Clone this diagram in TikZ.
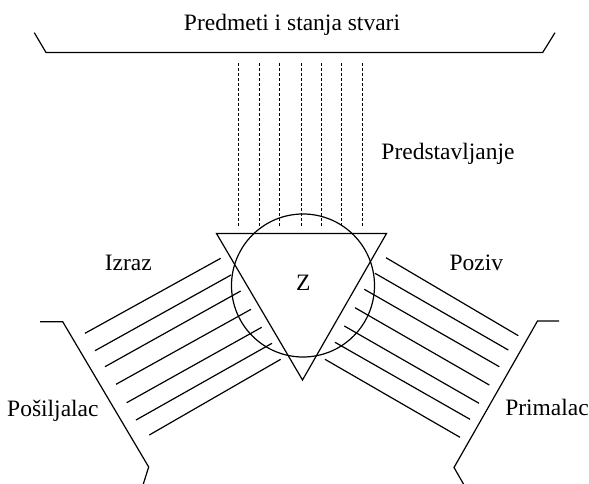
\documentclass[tikz,border=0pt]{standalone}
\usepackage{fontspec}
\setmainfont{Liberation Serif}
\begin{document}
\begin{tikzpicture}[x=1pt,y=-1pt,
  stroke/.style={line width=1.2pt, line cap=butt, line join=miter},
  ray/.style={line width=1.2pt},
  dray/.style={line width=1.0pt, dash pattern=on 3pt off 2pt},
  lbl/.style={anchor=base, inner sep=0pt, font=\fontsize{23.5}{27}\selectfont}]
\useasboundingbox (0,0) rectangle (589,484);

% labels
\node[lbl] (top) at (292,31) {Predmeti i stanja stvari};
\node[lbl] (pred) at (448,159.3) {Predstavljanje};
\node[lbl] (izraz) at (128.3,270) {Izraz};
\node[lbl] (poziv) at (476.3,270) {Poziv};
\node[lbl] (z) at (303.3,290) {Z};
\node[lbl] (posi) at (52.9,416) {Pošiljalac};
\node[lbl, anchor=base east] (prim) at (589,415) {Primalac};

% top bracket
\coordinate (t1) at (34.3,32.7);
\coordinate (t2) at (46,52.5);
\coordinate (t3) at (542.7,52.5);
\coordinate (t4) at (555,32.7);
\draw[stroke] (t1) -- (t2) -- (t3) -- (t4);

% left bracket
\coordinate (l1) at (40,321.7);
\coordinate (l2) at (62.7,321.7);
\coordinate (l3) at (148.7,467);
\coordinate (l4) at (143.3,484);
\draw[stroke] (l1) -- (l2) -- (l3) -- (l4);

% right bracket
\coordinate (r1) at (559,321);
\coordinate (r2) at (537.5,321);
\coordinate (r3) at (454,467.5);
\coordinate (r4) at (463.5,484);
\draw[stroke] (r1) -- (r2) -- (r3) -- (r4);

% triangle and circle
\coordinate (A) at (216.5,233.5);
\coordinate (B) at (386.5,233.5);
\coordinate (C) at (302.5,380);
\draw[stroke] (A) -- (B) -- (C) -- cycle;
\node[draw, circle, line width=1.2pt, minimum size=143pt, inner sep=0pt] (circ) at (303,285.5) {};

% dashed rays (Predstavljanje)
\foreach \x [count=\i] in {238.3,259,279.3,301,321.7,341.7,362.3} {
  \coordinate (du\i) at (\x,63);
  \coordinate (dd\i) at (\x,227);
  \draw[dray] (du\i) -- (dd\i);
}

% left rays (Izraz)
\foreach \ax/\ay/\bx/\by [count=\i] in {
  220.7/258.3/85/333.3,
  231/275/95/350.7,
  240.7/291/105/366.7,
  251/309.3/116/384.3,
  261.7/327.3/126.7/402.7,
  272/343.3/136/420,
  280.7/359.3/149.3/435} {
  \coordinate (li\i) at (\ax,\ay);
  \coordinate (lo\i) at (\bx,\by);
  \draw[ray] (li\i) -- (lo\i);
}

% right rays (Poziv)
\foreach \ax/\ay/\bx/\by [count=\i] in {
  386/257.7/518.3/335.7,
  375/273.3/508.3/350,
  364.3/289.3/499.3/366.7,
  355/307.7/489.3/385,
  344.3/326/479/403.3,
  335/342.3/470/419.3,
  325/359.3/460/437.3} {
  \coordinate (ri\i) at (\ax,\ay);
  \coordinate (ro\i) at (\bx,\by);
  \draw[ray] (ri\i) -- (ro\i);
}
\end{tikzpicture}
\end{document}
